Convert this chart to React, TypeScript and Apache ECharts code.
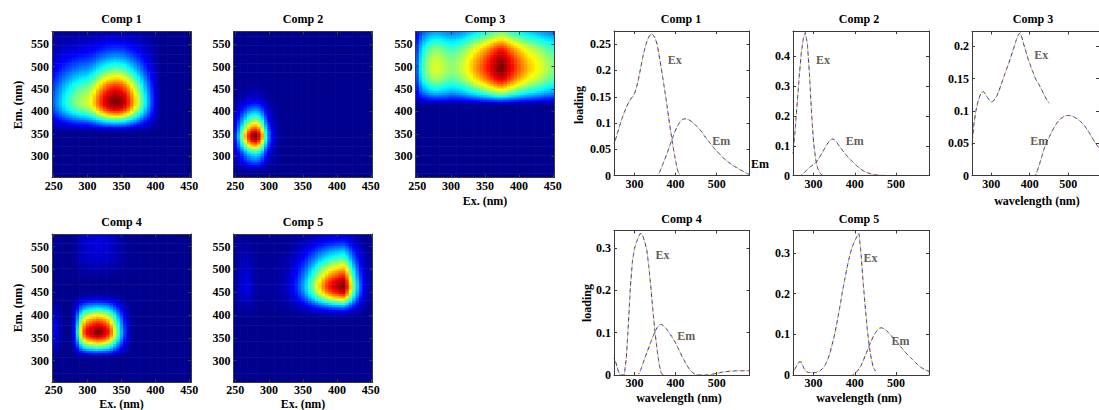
import React, { useEffect, useRef } from "react";
import * as echarts from "echarts";

const _ = null;

// excitation wavelengths (nm)
const EX_WL = [250, 255, 260, 265, 270, 275, 280, 285, 290, 295, 300, 305, 310, 315, 320, 325, 330, 335, 340, 345, 350, 355, 360, 365, 370, 375, 380, 385, 390, 395, 400, 405, 410, 415, 420, 425, 430, 435, 440, 445, 450];
// emission wavelengths (nm)
const EM_WL = [250, 255, 260, 265, 270, 275, 280, 285, 290, 295, 300, 305, 310, 315, 320, 325, 330, 335, 340, 345, 350, 355, 360, 365, 370, 375, 380, 385, 390, 395, 400, 405, 410, 415, 420, 425, 430, 435, 440, 445, 450, 455, 460, 465, 470, 475, 480, 485, 490, 495, 500, 505, 510, 515, 520, 525, 530, 535, 540, 545, 550, 555, 560, 565, 570, 575, 580];

// excitation loadings
const COMP1_EX = [0.060, 0.072, 0.085, 0.098, 0.110, 0.120, 0.130, 0.138, 0.145, 0.150, 0.156, 0.168, 0.185, 0.205, 0.225, 0.242, 0.255, 0.264, 0.270, 0.268, 0.262, 0.250, 0.228, 0.205, 0.180, 0.155, 0.128, 0.100, 0.075, 0.050, 0.028, 0.010, 0.000, _, _, _, _, _, _, _, _];
const COMP2_EX = [0.075, 0.150, 0.240, 0.330, 0.410, 0.460, 0.480, 0.440, 0.340, 0.210, 0.110, 0.055, 0.025, 0.010, 0.002, 0.000, _, _, _, _, _, _, _, _, _, _, _, _, _, _, _, _, _, _, _, _, _, _, _, _, _];
const COMP3_EX = [0.048, 0.080, 0.100, 0.113, 0.123, 0.129, 0.130, 0.126, 0.121, 0.117, 0.114, 0.115, 0.119, 0.124, 0.131, 0.140, 0.148, 0.157, 0.165, 0.173, 0.182, 0.191, 0.200, 0.210, 0.218, 0.221, 0.213, 0.202, 0.192, 0.182, 0.174, 0.165, 0.158, 0.150, 0.145, 0.140, 0.134, 0.128, 0.122, 0.117, 0.112];
const COMP4_EX = [0.040, 0.028, 0.010, 0.000, 0.000, 0.000, 0.040, 0.120, 0.210, 0.270, 0.300, 0.315, 0.328, 0.336, 0.330, 0.315, 0.295, 0.255, 0.205, 0.150, 0.100, 0.060, 0.025, 0.005, 0.000, _, _, _, _, _, _, _, _, _, _, _, _, _, _, _, _];
const COMP5_EX = [0.005, 0.015, 0.025, 0.032, 0.032, 0.020, 0.010, 0.007, 0.006, 0.006, 0.006, 0.006, 0.008, 0.010, 0.014, 0.019, 0.028, 0.040, 0.055, 0.075, 0.095, 0.120, 0.147, 0.175, 0.205, 0.232, 0.258, 0.282, 0.302, 0.318, 0.330, 0.340, 0.348, 0.300, 0.230, 0.170, 0.115, 0.070, 0.040, 0.018, 0.010];

// emission loadings
const COMP1_EM = [
  _, _, _, _, _, _, _, _, _, _,
  _, _, _, _, _, _, _, _, _, _,
  _, 0.000, 0.005, 0.014, 0.024, 0.034, 0.044, 0.055, 0.066, 0.077,
  0.087, 0.095, 0.101, 0.106, 0.108, 0.108, 0.107, 0.105, 0.102, 0.099,
  0.095, 0.091, 0.087, 0.082, 0.076, 0.071, 0.066, 0.061, 0.056, 0.051,
  0.047, 0.043, 0.039, 0.035, 0.031, 0.028, 0.025, 0.022, 0.019, 0.017,
  0.015, 0.012, 0.010, 0.008, 0.006, 0.004, 0.002];
const COMP2_EM = [
  _, _, _, _, 0.002, 0.008, 0.014, 0.021, 0.028, 0.033,
  0.037, 0.043, 0.052, 0.063, 0.075, 0.087, 0.099, 0.110, 0.119, 0.123,
  0.121, 0.114, 0.104, 0.095, 0.085, 0.076, 0.068, 0.060, 0.053, 0.046,
  0.039, 0.033, 0.027, 0.022, 0.017, 0.013, 0.010, 0.008, 0.006, 0.004,
  0.003, 0.002, 0.002, 0.001, 0.001, 0.001, 0.000, _, _, _,
  _, _, _, _, _, _, _, _, _, _,
  _, _, _, _, _, _, _];
const COMP3_EM = [
  _, _, _, _, _, _, _, _, _, _,
  _, _, _, _, _, _, _, _, _, _,
  _, _, _, _, _, _, _, _, _, _,
  _, _, _, 0.001, 0.008, 0.017, 0.027, 0.037, 0.046, 0.053,
  0.059, 0.065, 0.071, 0.076, 0.081, 0.085, 0.088, 0.090, 0.092, 0.093,
  0.093, 0.093, 0.092, 0.091, 0.089, 0.087, 0.085, 0.082, 0.079, 0.075,
  0.071, 0.066, 0.061, 0.056, 0.051, 0.047, 0.043];
const COMP4_EM = [
  _, _, _, _, _, _, _, _, _, _,
  _, _, 0.002, 0.012, 0.026, 0.040, 0.053, 0.066, 0.079, 0.091,
  0.103, 0.112, 0.118, 0.120, 0.117, 0.112, 0.106, 0.099, 0.092, 0.084,
  0.076, 0.066, 0.056, 0.045, 0.036, 0.027, 0.019, 0.012, 0.007, 0.003,
  0.001, 0.000, 0.000, 0.000, 0.000, 0.000, 0.000, 0.001, 0.002, 0.003,
  0.004, 0.005, 0.006, 0.007, 0.008, 0.008, 0.009, 0.009, 0.009, 0.010,
  0.010, 0.010, 0.010, 0.010, 0.010, 0.010, 0.010];
const COMP5_EM = [
  _, _, _, _, _, _, _, _, _, _,
  _, _, _, _, _, _, _, _, _, _,
  _, _, _, _, _, _, _, _, _, 0.001,
  0.004, 0.008, 0.015, 0.023, 0.034, 0.047, 0.059, 0.072, 0.084, 0.095,
  0.104, 0.110, 0.115, 0.116, 0.114, 0.111, 0.106, 0.100, 0.095, 0.089,
  0.083, 0.077, 0.071, 0.065, 0.059, 0.053, 0.048, 0.043, 0.038, 0.033,
  0.028, 0.023, 0.019, 0.016, 0.013, 0.011, 0.009];

const COMP_NAMES = ["Comp 1", "Comp 2", "Comp 3", "Comp 4", "Comp 5"];
const EX_LOADINGS = [COMP1_EX, COMP2_EX, COMP3_EX, COMP4_EX, COMP5_EX];
const EM_LOADINGS = [COMP1_EM, COMP2_EM, COMP3_EM, COMP4_EM, COMP5_EM];

const HEAT_X_TICKS = [250, 300, 350, 400, 450];
const HEAT_Y_TICKS = [300, 350, 400, 450, 500, 550];
const LINE_X_TICKS = [300, 400, 500];
const LINE_Y_MAX = [0.275, 0.485, 0.223, 0.342, 0.355];
const LINE_Y_TICKS = [
  [0, 0.05, 0.1, 0.15, 0.2, 0.25],
  [0, 0.1, 0.2, 0.3, 0.4],
  [0, 0.05, 0.1, 0.15, 0.2],
  [0, 0.1, 0.2, 0.3],
  [0, 0.1, 0.2, 0.3],
];
const EX_TEXT_AT = [[398, 0.22], [323, 0.389], [430, 0.186], [368, 0.285], [438, 0.288]];
const EM_TEXT_AT = [[511, 0.066], [400, 0.117], [425, 0.054], [426, 0.092], [511, 0.083]];

const REPLICATE_COLORS = ["#ff0000", "#00b000", "#0000ff", "#ff00ff", "#00c8c8", "#d8d800"];
const JET = ["#00008f", "#0000ff", "#0080ff", "#00ffff", "#80ff80", "#ffff00", "#ff8000", "#ff0000", "#800000"];

const HEAT_GRIDS = [
  { left: 52, top: 31.7, width: 139, height: 146 },
  { left: 233.5, top: 31.7, width: 139, height: 146 },
  { left: 415.5, top: 31.7, width: 139, height: 146 },
  { left: 52, top: 234, width: 139, height: 148.3 },
  { left: 233.5, top: 234, width: 139, height: 148.3 },
];
const LINE_GRIDS = [
  { left: 614, top: 31, width: 135.5, height: 144.7 },
  { left: 793, top: 31, width: 136, height: 144.7 },
  { left: 972, top: 31.5, width: 136, height: 144.2 },
  { left: 614, top: 230.5, width: 135.5, height: 144.5 },
  { left: 793, top: 230.5, width: 136, height: 144.5 },
];

const FONT = "Liberation Serif, Times New Roman, serif";
const AXIS_COLOR = "#3a3a3a";

function axis(gridIndex: number, min: number, max: number, ticks: number[], position: string, showLabel: boolean, margin: number) {
  return {
    type: "value",
    gridIndex,
    min,
    max,
    position,
    z: 10,
    splitLine: { show: false },
    axisLine: { show: true, onZero: false, lineStyle: { color: AXIS_COLOR, width: 1 } },
    axisTick: { show: true, inside: true, length: 3, customValues: ticks, lineStyle: { color: AXIS_COLOR } },
    axisLabel: {
      show: showLabel,
      customValues: ticks,
      margin,
      fontFamily: FONT,
      fontWeight: "bold",
      fontSize: 12,
      color: "#000",
      formatter: (v: number) => String(v),
    },
  };
}

function txt(text: string, x: number, y: number, rot = 0, size = 12, align = "center") {
  return {
    type: "text",
    x,
    y,
    rotation: rot,
    z: 100,
    silent: true,
    style: {
      text,
      fill: "#000",
      fontFamily: FONT,
      fontWeight: "bold",
      fontSize: size,
      align,
      verticalAlign: "middle",
      textAlign: align,
      textVerticalAlign: "middle",
    },
  };
}

export default function App() {
  const ref = useRef<HTMLDivElement>(null);

  useEffect(() => {
    if (!ref.current) return;
    const chart = echarts.init(ref.current, null, { renderer: "svg" });

    const grids: any[] = [];
    const xAxes: any[] = [];
    const yAxes: any[] = [];
    const series: any[] = [];
    const visualMaps: any[] = [];

    // heatmaps (component EEM = excitation x emission loadings)
    HEAT_GRIDS.forEach((g, k) => {
      grids.push({ ...g, containLabel: false, show: false });
      const gi = grids.length - 1;
      xAxes.push(axis(gi, 247.5, 452.5, HEAT_X_TICKS, "bottom", true, 2));
      xAxes.push(axis(gi, 247.5, 452.5, HEAT_X_TICKS, "top", false, 2));
      yAxes.push(axis(gi, 252.5, 577.5, HEAT_Y_TICKS, "left", true, 3));
      yAxes.push(axis(gi, 252.5, 577.5, HEAT_Y_TICKS, "right", false, 3));
      const ex = EX_LOADINGS[k];
      const em = EM_LOADINGS[k];
      const data: number[][] = [];
      let maxV = 0;
      EX_WL.forEach((xw, i) => {
        EM_WL.forEach((yw, j) => {
          const v = (ex[i] ?? 0) * (em[j] ?? 0);
          if (v > maxV) maxV = v;
          data.push([xw, yw, v]);
        });
      });
      series.push({
        type: "custom",
        xAxisIndex: xAxes.length - 2,
        yAxisIndex: yAxes.length - 2,
        data,
        encode: { x: 0, y: 1 },
        silent: true,
        clip: true,
        renderItem: (params: any, api: any) => {
          const x = api.value(0);
          const y = api.value(1);
          const p0 = api.coord([x - 2.5, y + 2.5]);
          const p1 = api.coord([x + 2.5, y - 2.5]);
          const cs = params.coordSys;
          const shape = echarts.graphic.clipRectByRect(
            { x: p0[0], y: p0[1], width: p1[0] - p0[0] + 0.6, height: p1[1] - p0[1] + 0.6 },
            { x: cs.x, y: cs.y, width: cs.width, height: cs.height }
          );
          if (!shape) return null;
          return { type: "rect", shape, style: { fill: api.visual("color"), stroke: null } };
        },
      });
      visualMaps.push({
        type: "continuous",
        show: false,
        seriesIndex: series.length - 1,
        dimension: 2,
        min: 0,
        max: maxV,
        inRange: { color: JET },
      });
    });

    // loading line plots
    LINE_GRIDS.forEach((g, k) => {
      grids.push({ ...g, containLabel: false, show: false });
      const gi = grids.length - 1;
      xAxes.push(axis(gi, 250, 580, LINE_X_TICKS, "bottom", true, 2));
      xAxes.push(axis(gi, 250, 580, LINE_X_TICKS, "top", false, 2));
      yAxes.push(axis(gi, 0, LINE_Y_MAX[k], LINE_Y_TICKS[k], "left", true, 3));
      yAxes.push(axis(gi, 0, LINE_Y_MAX[k], LINE_Y_TICKS[k], "right", false, 3));
      const xi = xAxes.length - 2;
      const yi = yAxes.length - 2;
      const exData = EX_WL.map((w, i) => [w, EX_LOADINGS[k][i] === null ? "-" : EX_LOADINGS[k][i]]);
      const emData = EM_WL.map((w, i) => [w, EM_LOADINGS[k][i] === null ? "-" : EM_LOADINGS[k][i]]);
      [exData, emData].forEach((d) => {
        REPLICATE_COLORS.forEach((c, ci) => {
          series.push({
            type: "line",
            xAxisIndex: xi,
            yAxisIndex: yi,
            data: d,
            symbol: "none",
            silent: true,
            z: 3,
            lineStyle: { color: c, width: 1, type: [1.2, 6], dashOffset: ci },
          });
        });
      });
      series.push({
        type: "scatter",
        xAxisIndex: xi,
        yAxisIndex: yi,
        symbolSize: 0,
        silent: true,
        z: 5,
        data: [
          [EX_TEXT_AT[k][0], EX_TEXT_AT[k][1], "Ex"],
          [EM_TEXT_AT[k][0], EM_TEXT_AT[k][1], "Em"],
        ],
        label: {
          show: true,
          position: "inside",
          formatter: (p: any) => p.value[2],
          fontFamily: FONT,
          fontWeight: "bold",
          fontSize: 12,
          color: "#3a3228",
        },
      });
    });

    const graphic: any[] = [
      // heatmap titles and axis names
      txt("Comp 1", 121.5, 19),
      txt("Comp 2", 303, 19),
      txt("Comp 3", 485, 19),
      txt("Comp 4", 121.5, 222),
      txt("Comp 5", 303, 222),
      txt("Em. (nm)", 17.5, 105, Math.PI / 2),
      txt("Em. (nm)", 17.5, 308, Math.PI / 2),
      txt("Ex. (nm)", 485, 201),
      txt("Ex. (nm)", 121.5, 404),
      txt("Ex. (nm)", 303, 404),
      // loading titles and axis names
      txt("Comp 1", 681, 19),
      txt("Comp 2", 859, 19),
      txt("Comp 3", 1033, 19),
      txt("Comp 4", 681.5, 219),
      txt("Comp 5", 859, 219),
      txt("loading", 579, 105, Math.PI / 2),
      txt("loading", 587, 303, Math.PI / 2),
      txt("wavelength (nm)", 1037, 201),
      txt("wavelength (nm)", 679, 398),
      txt("wavelength (nm)", 859, 398),
      txt("Em", 751, 164, 0, 12, "left"),
    ];

    chart.setOption({
      animation: false,
      backgroundColor: "#ffffff",
      grid: grids,
      xAxis: xAxes,
      yAxis: yAxes,
      visualMap: visualMaps,
      series,
      graphic,
    });

    return () => chart.dispose();
  }, []);

  return (
    <div
      ref={ref}
      style={{ position: "absolute", left: 0, top: 0, width: 1099, height: 410, background: "#fff" }}
    />
  );
}
